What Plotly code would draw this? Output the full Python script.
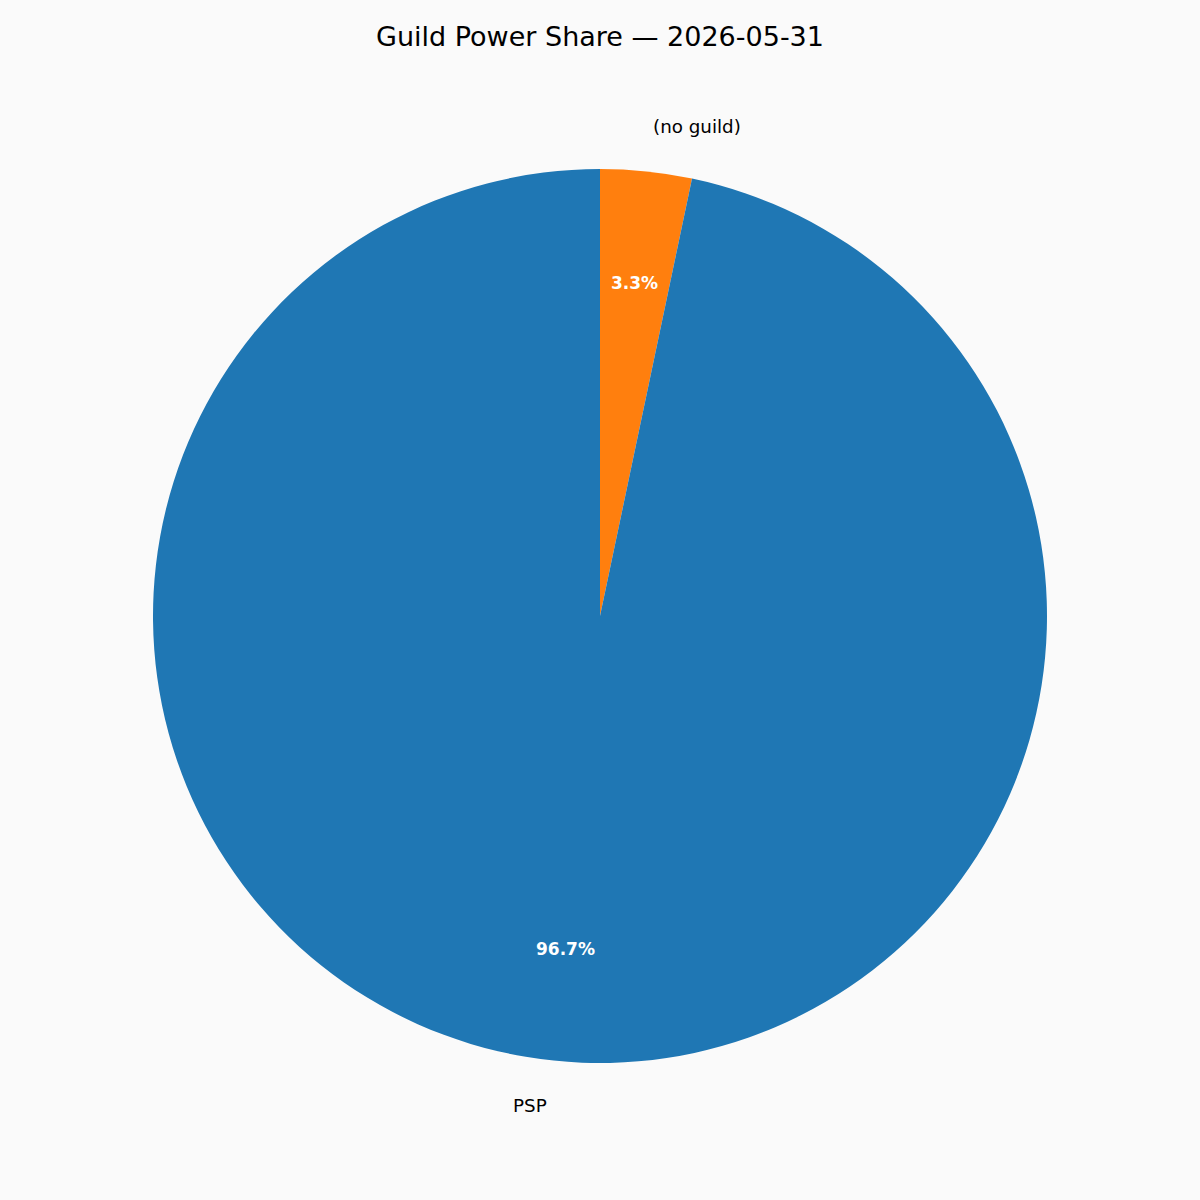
import math
import plotly.graph_objects as go

labels = ["PSP", "(no guild)"]
values = [96.7, 3.3]
colors = ["#1f77b4", "#ff7f0e"]
title = "Guild Power Share — 2026-05-31"

W = H = 1200
cx, cy, R = 600, 616, 447
ml, mr = cx - R, W - cx - R
mt, mb = cy - R, H - cy - R

# matplotlib: start 90 deg, counterclockwise in list order == clockwise in reversed order
fig = go.Figure(go.Pie(
    labels=labels[::-1], values=values[::-1], sort=False, direction="clockwise",
    rotation=0, marker=dict(colors=colors[::-1], line=dict(width=0)),
    textinfo="none", hoverinfo="label+percent", showlegend=False,
))

total = sum(values)
ann = []
start = 90.0
for lab, v in zip(labels, values):
    span = 360.0 * v / total
    mid = math.radians(start + span / 2)
    start += span
    c, s = math.cos(mid), math.sin(mid)
    ann.append(dict(x=0.5 + 0.5 * 1.1 * c, y=0.5 + 0.5 * 1.1 * s, xref="paper", yref="paper",
                    text=lab, showarrow=False, xanchor="left" if c > 0 else "right",
                    yanchor="middle", font=dict(family="DejaVu Sans", size=18.3, color="#000000")))
    ann.append(dict(x=0.5 + 0.5 * 0.75 * c, y=0.5 + 0.5 * 0.75 * s, xref="paper", yref="paper",
                    text="<b>%.1f%%</b>" % (100 * v / total), showarrow=False, xanchor="center",
                    yanchor="middle", font=dict(family="DejaVu Sans", size=17, color="#ffffff")))

fig.update_layout(
    width=W, height=H,
    margin=dict(l=ml, r=mr, t=mt, b=mb, autoexpand=False),
    paper_bgcolor="#fafafa", plot_bgcolor="#fafafa",
    title=dict(text=title, x=0.5, xanchor="center", xref="paper", y=1 - 37 / H, yref="container",
               yanchor="middle", font=dict(family="DejaVu Sans", size=27, color="#000000")),
    annotations=ann,
)
fig.write_html("out.html", config={"displayModeBar": False},
               post_script="document.body.style.margin='0';document.body.style.background='#fafafa';")
